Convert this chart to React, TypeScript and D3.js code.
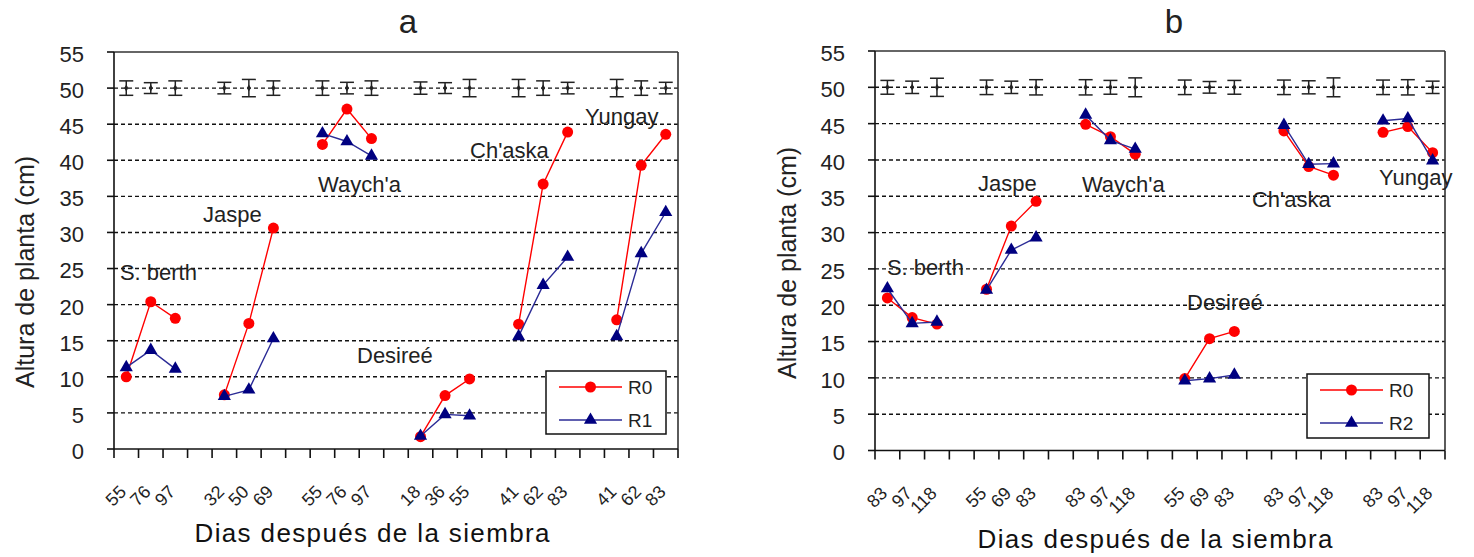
import React from "react";
import * as d3 from "d3";

// ---------- data ----------
const varieties = ["S. berth", "Jaspe", "Waych'a", "Desireé", "Ch'aska", "Yungay"];
const yTicks = [0, 5, 10, 15, 20, 25, 30, 35, 40, 45, 50, 55];
const errCenter = 50;

const daysA = ["55","76","97","","32","50","69","","55","76","97","","18","36","55","","41","62","83","","41","62","83"];
const r0A = [10.0,20.4,18.1,null,7.5,17.4,30.6,null,42.2,47.1,43.0,null,1.7,7.4,9.7,null,17.3,36.7,43.9,null,17.9,39.3,43.6];
const r1A = [11.3,13.7,11.1,null,7.3,8.2,15.3,null,43.7,42.6,40.6,null,1.8,4.8,4.6,null,15.6,22.7,26.6,null,15.6,27.1,32.8];
const errA = [1.0,0.75,1.0,null,0.8,1.2,1.0,null,1.0,0.8,1.0,null,0.85,0.75,1.2,null,1.2,1.0,0.8,null,1.2,1.0,0.8];

const daysB = ["83","97","118","","55","69","83","","83","97","118","","55","69","83","","83","97","118","","83","97","118"];
const r0B = [21.0,18.3,17.4,null,22.2,30.9,34.3,null,44.9,43.2,40.8,null,9.9,15.4,16.4,null,44.0,39.1,37.9,null,43.8,44.6,41.0];
const r2B = [22.3,17.5,17.7,null,22.1,27.6,29.3,null,46.2,42.7,41.5,null,9.6,9.9,10.4,null,44.8,39.4,39.5,null,45.4,45.7,39.9];
const errB = [0.95,0.85,1.25,null,1.0,0.85,1.05,null,1.05,0.95,1.3,null,1.0,0.8,0.95,null,1.0,0.9,1.3,null,1.0,1.05,0.85];

const seriesNamesA = ["R0", "R1"];
const seriesNamesB = ["R0", "R2"];

// ---------- layout ----------
const FONT = "'Liberation Sans', Arial, sans-serif";
const TXT = "#222";

type Layout = {
  left: number; right: number; top: number; bottom: number;
  title: string; titleX: number;
  yTitleX: number; yTitleY: number;
  xTitleX: number; xTitleY: number;
  annot: [number, number][]; // [category position (fractional), y value]
  legend: { x: number; y: number; w: number; h: number };
};

const layoutA: Layout = {
  left: 114, right: 678, top: 52, bottom: 449,
  title: "a", titleX: 408,
  yTitleX: 34, yTitleY: 272,
  xTitleX: 372, xTitleY: 542,
  annot: [[0.24, 23.4], [3.63, 31.4], [8.32, 35.6], [9.91, 11.9], [14.52, 40.3], [19.21, 45.0]],
  legend: { x: 546, y: 371, w: 120, h: 63 },
};
const layoutB: Layout = {
  left: 875, right: 1445, top: 51, bottom: 450.5,
  title: "b", titleX: 1174,
  yTitleX: 796, yTitleY: 263,
  xTitleX: 1155, xTitleY: 548,
  annot: [[0.48, 24.2], [4.16, 35.7], [8.35, 35.6], [12.59, 19.3], [15.21, 33.5], [20.34, 36.5]],
  legend: { x: 1307, y: 374, w: 122, h: 64 },
};

const RED = "#ff0000";
const NAVY = "#000080";
const BLUE_LINE = "#2b2b96";

function Panel({ L, days, s0, s1, err, names }: { L: Layout; days: string[]; s0: (number | null)[]; s1: (number | null)[]; err: (number | null)[]; names: string[] }) {
  const idx = days.map((_, i) => i);
  const x = d3.scaleBand<number>().domain(idx).range([L.left, L.right]).padding(0);
  const bw = x.bandwidth();
  const cx = (i: number) => (x(i) as number) + bw / 2;
  const y = d3.scaleLinear().domain([0, 55]).range([L.bottom, L.top]);

  const line = d3.line<number | null>()
    .defined((d) => d !== null)
    .x((_, i) => cx(i))
    .y((d) => y(d as number));

  const tri = d3.symbol().type(d3.symbolTriangle).size(75)();
  const diamond = d3.symbol().type(d3.symbolDiamond).size(14)();

  const boundaries = d3.range(days.length + 1).map((i) => L.left + i * bw);

  return (
    <g fontFamily={FONT} fill={TXT}>
      {/* title */}
      <text x={L.titleX} y={33} fontSize={33} textAnchor="middle">{L.title}</text>
      {/* gridlines */}
      {yTicks.filter((t) => t > 0 && t < 55).map((t) => (
        <line key={"g" + t} x1={L.left} x2={L.right} y1={y(t)} y2={y(t)} stroke="#111" strokeWidth={1.4} strokeDasharray="4,3" />
      ))}
      {/* frame top/right */}
      <line x1={L.left} x2={L.right} y1={y(55)} y2={y(55)} stroke="#333" strokeWidth={1.6} />
      <line x1={L.right} x2={L.right} y1={y(55)} y2={y(0)} stroke="#333" strokeWidth={1.6} />
      {/* axes */}
      <line x1={L.left} x2={L.left} y1={y(55)} y2={y(0)} stroke="#111" strokeWidth={1.6} />
      <line x1={L.left} x2={L.right} y1={y(0)} y2={y(0)} stroke="#111" strokeWidth={1.6} />
      {yTicks.map((t) => (
        <g key={"yt" + t}>
          <line x1={L.left - 7} x2={L.left} y1={y(t)} y2={y(t)} stroke="#111" strokeWidth={1.6} />
          <text x={L.left - 30} y={y(t)} dy="0.45em" fontSize={22} textAnchor="end">{t}</text>
        </g>
      ))}
      {boundaries.map((b, i) => (
        <line key={"xt" + i} x1={b} x2={b} y1={y(0)} y2={y(0) + 9} stroke="#111" strokeWidth={1.6} />
      ))}
      {days.map((d, i) => d ? (
        <text key={"xl" + i} fontSize={18} textAnchor="end" transform={`translate(${cx(i) + 1},${L.bottom + 44}) rotate(-45)`}>{d}</text>
      ) : null)}
      {/* axis titles */}
      <text fontSize={25} textAnchor="middle" transform={`translate(${L.yTitleX},${L.yTitleY}) rotate(-90)`}>Altura de planta (cm)</text>
      <text x={L.xTitleX} y={L.xTitleY} fontSize={26} fill="#111" textAnchor="middle" textLength={355} lengthAdjust="spacing">Dias después de la siembra</text>
      {/* error bars */}
      {err.map((e, i) => e === null ? null : (
        <g key={"e" + i} stroke="#222" strokeWidth={1.5}>
          <line x1={cx(i)} x2={cx(i)} y1={y(errCenter - e)} y2={y(errCenter + e)} />
          <line x1={cx(i) - 7} x2={cx(i) + 7} y1={y(errCenter - e)} y2={y(errCenter - e)} />
          <line x1={cx(i) - 7} x2={cx(i) + 7} y1={y(errCenter + e)} y2={y(errCenter + e)} />
          <path d={diamond as string} transform={`translate(${cx(i)},${y(errCenter)})`} fill="#222" stroke="none" />
        </g>
      ))}
      {/* variety annotations */}
      {varieties.map((v, i) => (
        <text key={"a" + i} x={L.left + L.annot[i][0] * bw} y={y(L.annot[i][1])} fontSize={22}>{v}</text>
      ))}
      {/* series */}
      <path d={line(s0) as string} fill="none" stroke={RED} strokeWidth={1.4} />
      {s0.map((v, i) => v === null ? null : <circle key={"c" + i} cx={cx(i)} cy={y(v)} r={5.5} fill={RED} />)}
      <path d={line(s1) as string} fill="none" stroke={BLUE_LINE} strokeWidth={1.4} />
      {s1.map((v, i) => v === null ? null : <path key={"t" + i} d={tri as string} transform={`translate(${cx(i)},${y(v)})`} fill={NAVY} />)}
      {/* legend */}
      <g>
        <rect x={L.legend.x} y={L.legend.y} width={L.legend.w} height={L.legend.h} fill="#fff" stroke="#111" strokeWidth={1.5} />
        {names.map((n, k) => {
          const ry = L.legend.y + 16 + k * 33;
          const lx1 = L.legend.x + 13;
          const lx2 = L.legend.x + 76;
          const mx = (lx1 + lx2) / 2;
          return (
            <g key={"lg" + k}>
              <line x1={lx1} x2={lx2} y1={ry} y2={ry} stroke={k === 0 ? RED : BLUE_LINE} strokeWidth={1.4} />
              {k === 0
                ? <circle cx={mx} cy={ry} r={5.5} fill={RED} />
                : <path d={tri as string} transform={`translate(${mx},${ry})`} fill={NAVY} />}
              <text x={L.legend.x + 82} y={ry} dy="0.36em" fontSize={19}>{n}</text>
            </g>
          );
        })}
      </g>
    </g>
  );
}

export default function App() {
  return (
    <svg width={1474} height={557} style={{ position: "absolute", left: 0, top: 0, display: "block", background: "#fff" }}>
      <rect width={1474} height={557} fill="#fff" />
      <Panel L={layoutA} days={daysA} s0={r0A} s1={r1A} err={errA} names={seriesNamesA} />
      <Panel L={layoutB} days={daysB} s0={r0B} s1={r2B} err={errB} names={seriesNamesB} />
    </svg>
  );
}
